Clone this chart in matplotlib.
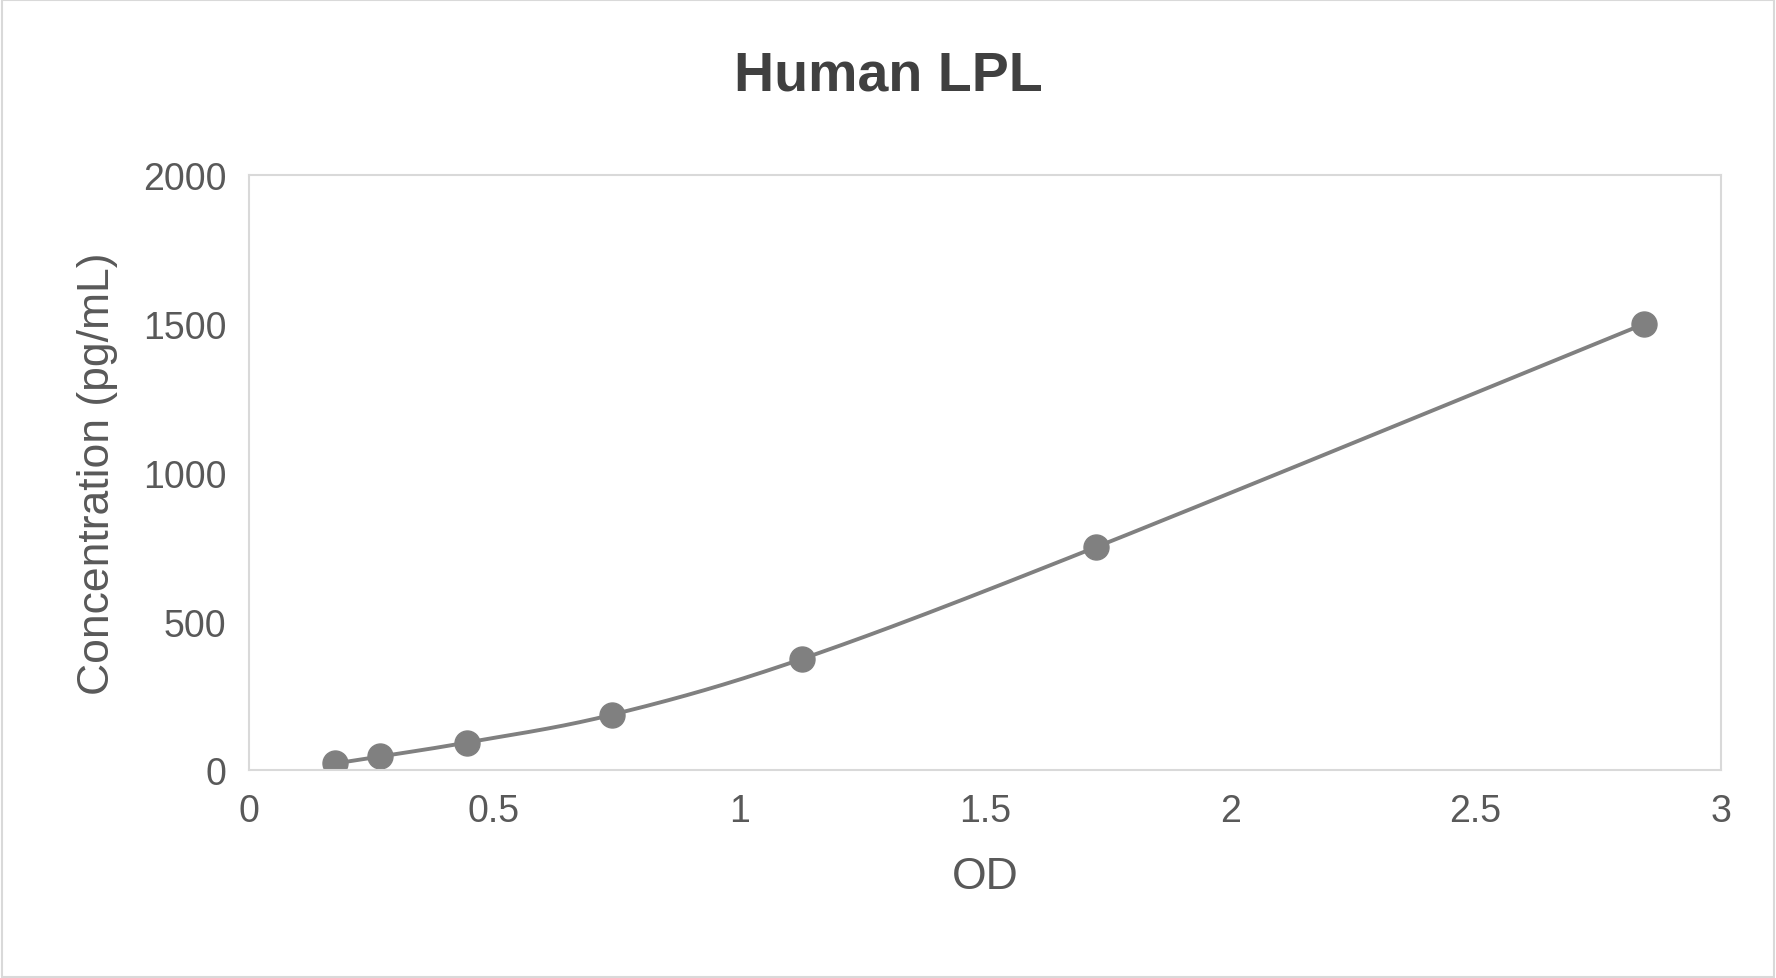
import numpy as np
import matplotlib.pyplot as plt

plt.rcParams['font.family'] = ['Liberation Sans', 'DejaVu Sans']

od = [0.176, 0.267, 0.444, 0.741, 1.128, 1.726, 2.843]
conc = [23.4, 46.9, 93.75, 187.5, 375, 750, 1500]
x_ticks = [0, 0.5, 1, 1.5, 2, 2.5, 3]
x_labels = ['0', '0.5', '1', '1.5', '2', '2.5', '3']
y_ticks = [0, 500, 1000, 1500, 2000]


def smooth(xs, ys, n=30):
    # catmull-rom style smoothing like Excel's "smoothed line"
    p = np.column_stack([xs, ys])
    p = np.vstack([p[0], p, p[-1]])
    out = []
    for i in range(1, len(p) - 2):
        p0, p1, p2, p3 = p[i - 1], p[i], p[i + 1], p[i + 2]
        for t in np.linspace(0, 1, n, endpoint=False):
            out.append(0.5 * ((2 * p1) + (-p0 + p2) * t
                              + (2 * p0 - 5 * p1 + 4 * p2 - p3) * t ** 2
                              + (-p0 + 3 * p1 - 3 * p2 + p3) * t ** 3))
    out.append(p[-2])
    out = np.array(out)
    return out[:, 0], out[:, 1]


fig = plt.figure(figsize=(17.76, 9.79), dpi=100)
fig.patches.append(plt.Rectangle((0.001, 0.001), 0.998, 0.998, transform=fig.transFigure,
                                 fill=False, edgecolor='#d9d9d9', linewidth=1.5))
ax = fig.add_axes([0.140, 0.212, 0.829, 0.608])

sx, sy = smooth(od, conc)
ax.plot(sx, sy, color='#808080', linewidth=2.8)
ax.plot(od, conc, 'o', color='#808080', markersize=18)

ax.set_xlim(0, 3)
ax.set_ylim(0, 2000)
ax.set_xticks(x_ticks)
ax.set_xticklabels(x_labels)
ax.set_yticks(y_ticks)
for s in ax.spines.values():
    s.set_color('#d9d9d9')
    s.set_linewidth(1.5)
ax.tick_params(length=0, labelsize=27, colors='#595959', pad=16)
ax.set_xlabel('OD', fontsize=32, color='#595959', labelpad=20)
ax.set_ylabel('Concentration (pg/mL)', fontsize=32, color='#595959', labelpad=18)
fig.text(0.5, 0.922, 'Human LPL', ha='center', va='center', fontsize=40,
         fontweight='bold', color='#404040')

fig.savefig('out.png', dpi=100)
